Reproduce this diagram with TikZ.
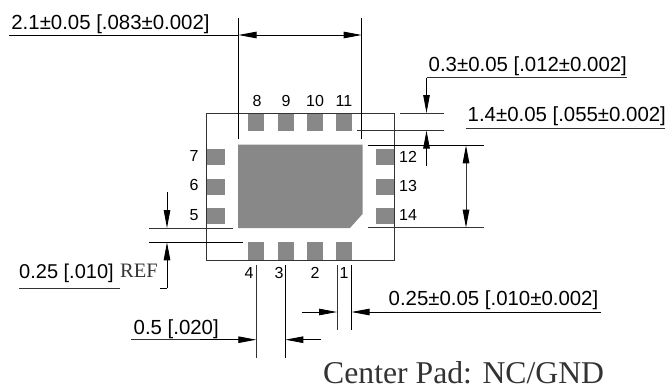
\documentclass[tikz,border=0pt]{standalone}
\usepackage{fontspec}
\setmainfont{Liberation Sans}
\newfontfamily\serifface{Liberation Serif}
\usetikzlibrary{arrows.meta}
\definecolor{padgray}{HTML}{888888}
\definecolor{inkgray}{HTML}{333333}
\tikzset{
  x=1pt,y=-1pt,
  dimline/.style={draw=black,line width=0.85pt},
  softline/.style={draw=inkgray,line width=1pt},
  dimarrow/.style={draw=black,line width=0.85pt,-{Triangle[length=18pt,width=6.5pt]}},
  padbox/.style={fill=padgray,draw=none},
  pinlabel/.style={inner sep=0pt,font=\fontsize{16}{17}\selectfont},
  dimlabel/.style={inner sep=0pt,anchor=base west,font=\fontsize{20.4}{21}\selectfont},
}
\begin{document}
\begin{tikzpicture}
\useasboundingbox (0,0) rectangle (671,391);
% pads
\foreach \px in {248,277.5,307,336}{
  \fill[padbox] (\px,113) rectangle ++(16,18);
  \fill[padbox] (\px,242) rectangle ++(16,18);
}
\foreach \py in {149,178.5,208}{
  \fill[padbox] (205.5,\py) rectangle ++(19,16);
  \fill[padbox] (376,\py) rectangle ++(18.5,16);
}
\fill[padbox] (238,144.5) -- (362.5,144.5) -- (362.5,214) -- (350,228) -- (238,228) -- cycle;
% outline
\draw[softline] (206.5,113) rectangle (394.3,260);
% pin labels
\foreach \t/\px in {8/257,9/286,10/315,11/344}{\node[pinlabel] (top\t) at (\px,100.5) {\t};}
\foreach \t/\py in {7/156,6/185,5/215}{\node[pinlabel] (left\t) at (194,\py) {\t};}
\foreach \t/\py in {12/157,13/186,14/215}{\node[pinlabel] (right\t) at (408,\py) {\t};}
\foreach \t/\px in {4/249,3/279,2/315,1/344}{\node[pinlabel] (bot\t) at (\px,273) {\t};}
% dimension 2.1
\node[dimlabel] (dimA) at (11.2,29.3) {2.1±0.05 [.083±0.002]};
\draw[dimline] (238.5,18) -- (238.5,139);
\draw[dimline] (361.7,18) -- (361.7,139);
\draw[dimline] (9,35) -- (238.5,35);
\draw[dimarrow] (300,35) -- (238.5,35);
\draw[dimarrow] (300,35) -- (361.7,35);
% dimension 0.3
\node[dimlabel] (dimB) at (428.5,71) {0.3±0.05 [.012±0.002]};
\draw[softline] (426.5,77.5) -- (627,77.5);
\draw[dimarrow] (426.5,77.5) -- (426.5,113);
\draw[softline] (400,113) -- (444,113);
\draw[softline] (357,130.5) -- (444,130.5);
\draw[dimarrow] (426.5,166) -- (426.5,130.5);
% dimension 1.4
\node[dimlabel] (dimC) at (467.5,121) {1.4±0.05 [.055±0.002]};
\draw[softline] (466,128) -- (664.5,128);
\draw[dimline] (367.7,145.3) -- (484,145.3);
\draw[softline] (367.7,227.7) -- (484,227.7);
\draw[softline,-{Triangle[length=18pt,width=6.5pt,black]}] (466,186) -- (466,145.3);
\draw[softline,-{Triangle[length=18pt,width=6.5pt,black]}] (466,186) -- (466,227.7);
% dimension 0.25 REF
\node[dimlabel,font=\fontsize{20}{21}\selectfont] (dimD) at (19,278) {0.25 [.010]};
\node[inner sep=0pt,anchor=base west,text=inkgray,font=\serifface\fontsize{20.5}{21}\selectfont] (dimDref) at (120,277) {REF};
\draw[softline] (19,288) -- (120,288);
\draw[dimline] (160,288) -- (167,288);
\draw[dimarrow] (167,288) -- (167,242.3);
\draw[dimarrow] (167,192) -- (167,228);
\draw[softline] (149,228) -- (233,228);
\draw[dimline] (149,242.3) -- (243,242.3);
% dimension 0.5
\node[dimlabel] (dimE) at (133.5,334) {0.5 [.020]};
\draw[softline] (256.3,265) -- (256.3,357.5);
\draw[dimline] (285.3,265) -- (285.3,357.5);
\draw[softline] (131,339.7) -- (200,339.7);
\draw[dimarrow] (200,339.7) -- (256.3,339.7);
\draw[softline] (321,339.7) -- (303,339.7);
\draw[dimarrow] (321,339.7) -- (285.3,339.7);
% dimension 0.25
\node[dimlabel] (dimF) at (388.5,305.7) {0.25±0.05 [.010±0.002]};
\draw[softline] (337,265) -- (337,330);
\draw[dimline] (351.5,265) -- (351.5,330);
\draw[dimarrow] (301.5,312) -- (337,312);
\draw[dimarrow] (601,312) -- (351.5,312);
% note
\node[inner sep=0pt,anchor=base west,text=inkgray,font=\serifface\fontsize{31.7}{33}\selectfont] (note) at (323,383) {Center Pad: NC/GND};
\end{tikzpicture}
\end{document}
